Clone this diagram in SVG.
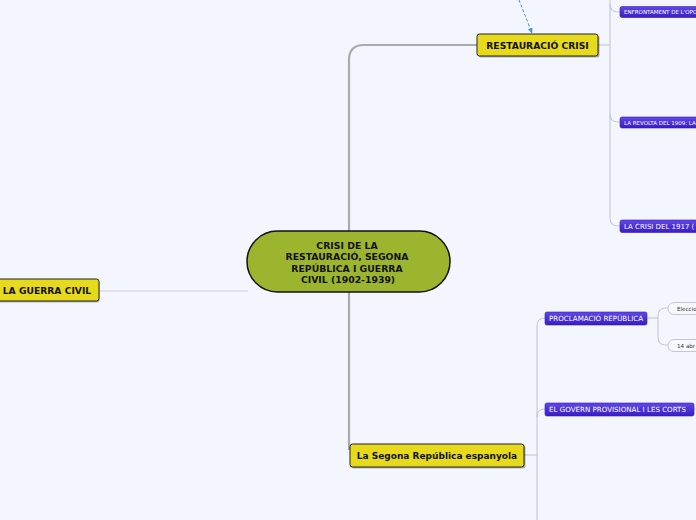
<svg xmlns="http://www.w3.org/2000/svg" width="696" height="520" viewBox="0 0 696 520">
<defs>
<linearGradient id="purple" x1="0" y1="0" x2="0" y2="1">
<stop offset="0" stop-color="#6048e8"/>
<stop offset="1" stop-color="#3a1cc4"/>
</linearGradient>
<marker id="arr" viewBox="0 0 10 10" refX="8" refY="5" markerWidth="6" markerHeight="6" orient="auto">
<path d="M0,1 L9,5 L0,9 z" fill="#4a8ee0"/>
</marker>
<style>
.main{fill:none;stroke:#ababab;stroke-width:2.2}
.sub{fill:none;stroke:#c9cbd3;stroke-width:1.2}
.yel{fill:#e7da1c;stroke:#222;stroke-width:1}
.shadow{fill:#000;opacity:0.3}
.pur{fill:url(#purple);stroke:#3418b0;stroke-width:0.6}
.pill{fill:#f7f8fd;stroke:#c5c7cf;stroke-width:1}
.yt{font-family:"DejaVu Sans",Verdana,sans-serif;font-weight:bold;font-size:9.2px;fill:#111;text-anchor:middle}
.ct{font-family:"DejaVu Sans",Verdana,sans-serif;font-weight:bold;font-size:9.3px;fill:#111;text-anchor:middle}
.pt{font-family:"DejaVu Sans",Verdana,sans-serif;fill:#fff}
.wt{font-family:"DejaVu Sans",Verdana,sans-serif;font-size:5.6px;fill:#333}
</style>
</defs>
<rect width="696" height="520" fill="#f3f6fe"/>
<g id="connectors">
<path class="main" d="M349,231 V60 Q349,45 364,45 H477"/>
<path class="main" d="M349,292 V450"/>
<path class="sub" d="M100,291 H248"/>
<path class="sub" d="M598,45 H610"/>
<path class="sub" d="M610,0 V218 Q610,226 618,226 H620"/>
<path class="sub" d="M610,4 Q610,12 618,12 H620"/>
<path class="sub" d="M610,114 Q610,122 618,122 H620"/>
<path class="sub" d="M524,455 H537"/>
<path class="sub" d="M537,520 V326 Q537,318 545,318"/>
<path class="sub" d="M537,417 Q537,409 545,409"/>
<path class="sub" d="M647,318 H658"/>
<path class="sub" d="M658,318 V316 Q658,308 666,308 H668"/>
<path class="sub" d="M658,318 V337 Q658,345 666,345 H668"/>
<path class="sub" d="M694,409 H700"/>
<path d="M519,0 L532,33" fill="none" stroke="#4a8ee0" stroke-width="1" stroke-dasharray="3,2" marker-end="url(#arr)"/>
</g>
<g id="center">
<rect x="247" y="231" width="203" height="61" rx="30.5" fill="#9cb52e" stroke="#111" stroke-width="1.5"/>
<text class="ct" x="347" y="248.5">CRISI DE LA</text>
<text class="ct" x="347" y="260">RESTAURACIÓ, SEGONA</text>
<text class="ct" x="347" y="271.5">REPÚBLICA I GUERRA</text>
<text class="ct" x="348" y="282.5">CIVIL (1902-1939)</text>
</g>
<g id="restauracio">
<rect class="shadow" x="478.5" y="35.5" width="121" height="22" rx="2.5"/>
<rect class="yel" x="477" y="34" width="121" height="22" rx="2.5"/>
<text class="yt" x="537.5" y="48.5">RESTAURACIÓ CRISI</text>
</g>
<g id="segona">
<rect class="shadow" x="351.5" y="445.5" width="174" height="23" rx="2.5"/>
<rect class="yel" x="350" y="444" width="174" height="23" rx="2.5"/>
<text class="yt" x="437" y="459" style="font-size:9px">La Segona República espanyola</text>
</g>
<g id="guerra">
<rect class="shadow" x="-6.5" y="280.5" width="106" height="22" rx="2.5"/>
<rect class="yel" x="-8" y="279" width="107" height="22" rx="2.5"/>
<text class="yt" x="47" y="294">LA GUERRA CIVIL</text>
</g>
<g id="enfrontament">
<rect class="pur" x="620" y="6.5" width="100" height="11" rx="2"/>
<text class="pt" x="624" y="14.3" font-size="5.5">ENFRONTAMENT DE L'OPO</text>
</g>
<g id="revolta">
<rect class="pur" x="620" y="117" width="100" height="11" rx="2"/>
<text class="pt" x="624" y="124.8" font-size="5.5">LA REVOLTA DEL 1909: LA</text>
</g>
<g id="crisi1917">
<rect class="pur" x="620" y="220" width="100" height="12.5" rx="2"/>
<text class="pt" x="624" y="229.2" font-size="7">LA CRISI DEL 1917 (</text>
</g>
<g id="proclamacio">
<rect class="pur" x="545" y="312" width="102" height="13" rx="2"/>
<text class="pt" x="549" y="321.2" font-size="7.1">PROCLAMACIÓ REPÚBLICA</text>
</g>
<g id="govern">
<rect class="pur" x="545" y="403" width="149" height="13" rx="2"/>
<text class="pt" x="549" y="412.2" font-size="7.1">EL GOVERN PROVISIONAL I LES CORTS</text>
</g>
<g id="eleccions">
<rect class="pill" x="668" y="302.5" width="60" height="12" rx="6"/>
<text class="wt" x="677" y="310.7">Eleccio</text>
</g>
<g id="abril">
<rect class="pill" x="668" y="339.5" width="60" height="12" rx="6"/>
<text class="wt" x="677" y="347.7">14 abr</text>
</g>
</svg>
